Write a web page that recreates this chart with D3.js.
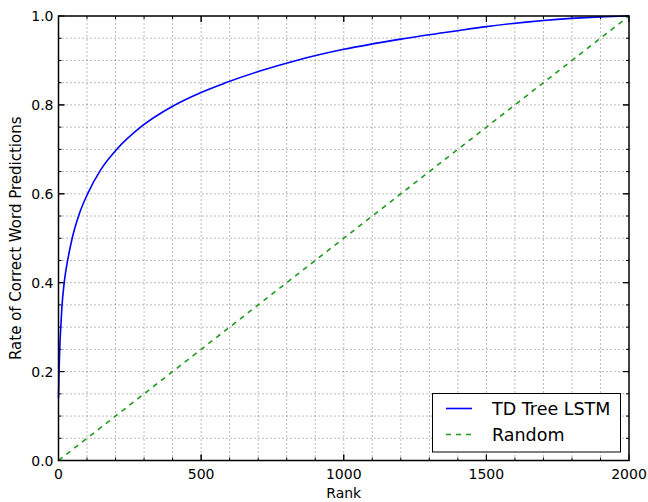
<!DOCTYPE html>
<html lang="en">
<head>
<meta charset="UTF-8">
<title>Rank curve</title>
<script src="https://cdnjs.cloudflare.com/ajax/libs/d3/7.8.5/d3.min.js"></script>
<style>
  body { margin: 0; background: #fff; }
  text { font-family: "DejaVu Sans", sans-serif; }
</style>
</head>
<body>
<div id="chart"></div>
<script>
// values
var ranks = [0, 2, 4, 8, 12, 20, 32, 48, 73, 102, 149, 200, 292, 400, 500, 583, 700, 834,
             1000, 1200, 1400, 1500, 1700, 1900, 2000];
var lstmRate = [0.14, 0.2, 0.245, 0.3, 0.345, 0.4, 0.45, 0.5, 0.555, 0.6, 0.655, 0.697, 0.752, 0.797, 0.828,
                0.849, 0.875, 0.9, 0.925, 0.948, 0.967, 0.976, 0.99, 0.998, 1.0];
var randomRanks = [0, 2000];
var randomRate = [0, 1];
var xTicks = [0, 500, 1000, 1500, 2000];
var yTicks = [0.0, 0.2, 0.4, 0.6, 0.8, 1.0];
var seriesNames = ["TD Tree LSTM", "Random"];

var width = 648, height = 502;
var margin = {left: 58.5, right: 19, top: 16, bottom: 41.5};

var svg = d3.select("#chart").append("svg")
    .attr("width", width)
    .attr("height", height);

var x = d3.scaleLinear().domain([0, 2000]).range([margin.left, width - margin.right]);
var y = d3.scaleLinear().domain([0, 1]).range([height - margin.bottom, margin.top]);

// dotted grid on every minor tick
var xMinor = d3.range(100, 2000, 100);
var yMinor = d3.range(1, 20).map(function(i) { return i * 0.05; });

svg.append("g").selectAll("line").data(xMinor).enter().append("line")
    .attr("x1", function(d) { return x(d); }).attr("x2", function(d) { return x(d); })
    .attr("y1", y(0)).attr("y2", y(1))
    .attr("stroke", "#555").attr("stroke-width", 0.8).attr("stroke-dasharray", "1,3");

svg.append("g").selectAll("line").data(yMinor).enter().append("line")
    .attr("y1", function(d) { return y(d); }).attr("y2", function(d) { return y(d); })
    .attr("x1", x(0)).attr("x2", x(2000))
    .attr("stroke", "#555").attr("stroke-width", 0.8).attr("stroke-dasharray", "1,3");

// inward ticks on all four sides
var tickG = svg.append("g").attr("stroke", "#000").attr("stroke-width", 1);
xMinor.concat(xTicks).forEach(function(d) {
    var len = xTicks.indexOf(d) >= 0 ? 6 : 3;
    tickG.append("line").attr("x1", x(d)).attr("x2", x(d)).attr("y1", y(0)).attr("y2", y(0) - len);
    tickG.append("line").attr("x1", x(d)).attr("x2", x(d)).attr("y1", y(1)).attr("y2", y(1) + len);
});
yMinor.concat(yTicks).forEach(function(d) {
    var major = yTicks.some(function(t) { return Math.abs(t - d) < 1e-6; });
    var len = major ? 6 : 3;
    tickG.append("line").attr("y1", y(d)).attr("y2", y(d)).attr("x1", x(0)).attr("x2", x(0) + len);
    tickG.append("line").attr("y1", y(d)).attr("y2", y(d)).attr("x1", x(2000)).attr("x2", x(2000) - len);
});

// series
var pts = ranks.map(function(r, i) { return [r, lstmRate[i]]; });
var line = d3.line()
    .x(function(d) { return x(d[0]); })
    .y(function(d) { return y(d[1]); })
    .curve(d3.curveMonotoneX);

svg.append("path")
    .datum(randomRanks.map(function(r, i) { return [r, randomRate[i]]; }))
    .attr("d", d3.line().x(function(d) { return x(d[0]); }).y(function(d) { return y(d[1]); }))
    .attr("fill", "none")
    .attr("stroke", "#1f9a1f")
    .attr("stroke-width", 1.6)
    .attr("stroke-dasharray", "5,5");

svg.append("path")
    .datum(pts)
    .attr("d", line)
    .attr("fill", "none")
    .attr("stroke", "#0000ff")
    .attr("stroke-width", 1.6);

// frame
svg.append("rect")
    .attr("x", x(0)).attr("y", y(1))
    .attr("width", x(2000) - x(0)).attr("height", y(0) - y(1))
    .attr("fill", "none").attr("stroke", "#000").attr("stroke-width", 1.5);

// tick labels
svg.append("g").selectAll("text").data(xTicks).enter().append("text")
    .attr("x", function(d) { return x(d); })
    .attr("y", y(0) + 18)
    .attr("text-anchor", "middle")
    .attr("font-size", 14)
    .text(function(d) { return d; });

svg.append("g").selectAll("text").data(yTicks).enter().append("text")
    .attr("x", x(0) - 5)
    .attr("y", function(d) { return y(d) + 5; })
    .attr("text-anchor", "end")
    .attr("font-size", 14)
    .text(function(d) { return d.toFixed(1); });

// axis titles
svg.append("text")
    .attr("x", x(1000)).attr("y", 498)
    .attr("text-anchor", "middle")
    .attr("font-size", 14)
    .text("Rank");

svg.append("text")
    .attr("transform", "translate(21," + y(0.5) + ") rotate(-90)")
    .attr("text-anchor", "middle")
    .attr("font-size", 15)
    .text("Rate of Correct Word Predictions");

// legend
var lg = svg.append("g");
lg.append("rect")
    .attr("x", 432.5).attr("y", 393.5).attr("width", 188).attr("height", 58.5)
    .attr("fill", "#fff").attr("stroke", "#000").attr("stroke-width", 1);
lg.append("line").attr("x1", 446).attr("x2", 472).attr("y1", 408.5).attr("y2", 408.5)
    .attr("stroke", "#0000ff").attr("stroke-width", 1.6);
lg.append("line").attr("x1", 446).attr("x2", 472).attr("y1", 434.5).attr("y2", 434.5)
    .attr("stroke", "#1f9a1f").attr("stroke-width", 1.6).attr("stroke-dasharray", "5,5");
lg.selectAll("text.lbl").data(seriesNames).enter().append("text")
    .attr("class", "lbl")
    .attr("x", 492)
    .attr("y", function(d, i) { return 415 + i * 26; })
    .attr("font-size", 17.5)
    .text(function(d) { return d; });
</script>
</body>
</html>
